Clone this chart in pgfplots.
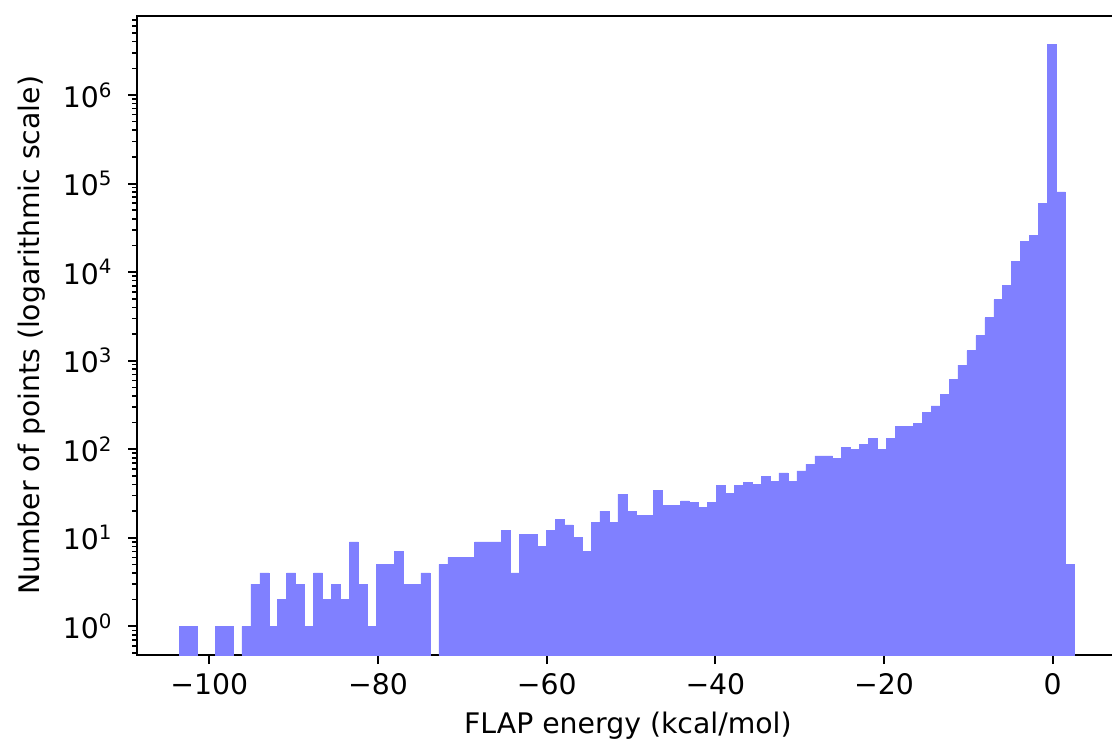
\documentclass[border=0pt]{standalone}
\usepackage{fontspec}
\setmainfont{DejaVu Sans}
\usepackage{pgfplots}
\pgfplotsset{compat=1.18}
\definecolor{histblue}{HTML}{8080FF}

\begin{document}
\begin{tikzpicture}
% the reference crops the right spine off: fix the page box first
\useasboundingbox (-53.34pt,-36.52pt) rectangle (378.66pt,254.47pt);
\clip (-53.34pt,-36.52pt) rectangle (378.66pt,254.47pt);
\begin{axis}[
  at={(0pt,0pt)}, anchor=south west,
  scale only axis,
  width=381.2pt, height=248.37pt,
  xmin=-108.54, xmax=7.8,
  ymode=log, ymin=0.474, ymax=7.86e6,
  log origin=infty,
  xtick={-100,-80,-60,-40,-20,0},
  xticklabels={−100,−80,−60,−40,−20,0},
  ytick={1,10,100,1000,10000,100000,1000000},
  yticklabels={10\textsuperscript{0},10\textsuperscript{1},10\textsuperscript{2},10\textsuperscript{3},10\textsuperscript{4},10\textsuperscript{5},10\textsuperscript{6}},
  minor ytick={0.5,0.6,0.7,0.8,0.9,
    2,3,4,5,6,7,8,9,
    20,30,40,50,60,70,80,90,
    200,300,400,500,600,700,800,900,
    2000,3000,4000,5000,6000,7000,8000,9000,
    2e4,3e4,4e4,5e4,6e4,7e4,8e4,9e4,
    2e5,3e5,4e5,5e5,6e5,7e5,8e5,9e5,
    2e6,3e6,4e6,5e6,6e6,7e6},
  tick align=outside,
  tick pos=left,
  major tick length=3.5pt,
  minor tick length=2pt,
  every tick/.style={black, line width=0.8pt},
  every minor tick/.append style={line width=0.6pt},
  axis line style={black, line width=0.8pt},
  ticklabel style={font=\fontsize{11}{13}\selectfont},
  yticklabel style={xshift=-2.5pt},
  label style={font=\fontsize{11}{13}\selectfont},
  xlabel={FLAP energy (kcal/mol)},
  ylabel={Number of points (logarithmic scale)},
  ybar, bar width=1.0612, bar shift=0pt,
]
% histogram counts, one bar per bin (bin width 1.0612), empty bins left out
\addplot[fill=histblue, draw=histblue, line width=0.2pt] coordinates {
  (-103.03,1) (-101.97,1)
  (-98.78,1) (-97.72,1)
  (-95.60,1) (-94.54,3) (-93.48,4) (-92.42,1) (-91.36,2) (-90.29,4)
  (-89.23,3) (-88.17,1) (-87.11,4) (-86.05,2) (-84.99,3) (-83.93,2)
  (-82.87,9) (-81.80,3) (-80.74,1) (-79.68,5) (-78.62,5) (-77.56,7)
  (-76.50,3) (-75.44,3) (-74.38,4)
  (-72.25,5) (-71.19,6) (-70.13,6) (-69.07,6) (-68.01,9) (-66.95,9)
  (-65.88,9) (-64.82,12) (-63.76,4) (-62.70,11) (-61.64,11) (-60.58,8)
  (-59.52,12) (-58.46,16) (-57.40,14) (-56.34,10) (-55.27,7) (-54.21,15)
  (-53.15,20) (-52.09,15) (-51.03,31) (-49.97,20) (-48.91,18) (-47.85,18)
  (-46.79,34) (-45.72,23) (-44.66,23) (-43.60,26) (-42.54,25) (-41.48,22)
  (-40.42,25) (-39.36,39) (-38.30,32) (-37.23,39) (-36.17,42) (-35.11,40)
  (-34.05,49) (-32.99,43) (-31.93,54) (-30.87,43) (-29.81,57) (-28.75,68)
  (-27.68,84) (-26.62,84) (-25.56,78) (-24.50,104) (-23.44,99) (-22.38,114)
  (-21.32,132) (-20.26,99) (-19.19,132) (-18.13,180) (-17.07,180) (-16.01,196)
  (-14.95,262) (-13.89,308) (-12.83,418) (-11.77,609) (-10.71,891) (-9.64,1300)
  (-8.58,1920) (-7.52,3050) (-6.46,4900) (-5.40,7020) (-4.34,13200) (-3.28,22300)
  (-2.22,25900) (-1.15,60000) (-0.09,3740000) (0.97,80700) (2.03,5)
};
\end{axis}
\end{tikzpicture}
\end{document}
